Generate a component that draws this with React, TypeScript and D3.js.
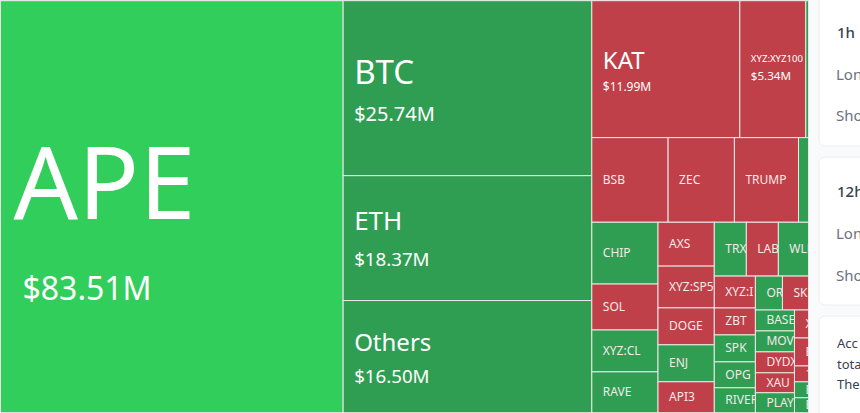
import { useEffect, useRef } from "react"
import * as d3 from "d3"

type Node = { name: string; value?: number; dir?: "h" | "v"; children?: Node[] }

const WIDTH = 860
const HEIGHT = 413
const MAP_W = 808
const MAP_H = 412

// values in $M
const mainNames = ["BTC", "ETH", "Others"]
const mainValues = [25.74, 18.37, 16.5]
const topNames = ["KAT", "XYZ:XYZ100", ""]
const topValues = [11.99, 5.34, 0.22]
const secondNames = ["BSB", "ZEC", "TRUMP", ""]
const secondValues = [3.82, 3.32, 3.21, 0.5]
const colANames = ["CHIP", "SOL", "XYZ:CL", "RAVE"]
const colAValues = [2.42, 1.8, 1.64, 1.6]
const colBNames = ["AXS", "XYZ:SP500", "DOGE", "ENJ", "API3"]
const colBValues = [1.46, 1.39, 1.23, 1.23, 1.03]
const trxNames = ["TRX", "LAB", "WLF"]
const trxValues = [1.02, 1.02, 0.96]
const lowLeftNames = ["XYZ:I", "ZBT", "SPK", "OPG", "RIVER"]
const lowLeftValues = [0.776, 0.655, 0.655, 0.63, 0.606]
const orNames = ["OR", "SK"]
const orValues = [0.543, 0.523]
const baseNames = ["BASE", "MOV", "DYDX", "XAU", "PLAY"]
const baseValues = [0.484, 0.484, 0.484, 0.461, 0.461]
const tailNames = ["X", "E", "1", "E2", "E3"]
const tailValues = [0.232, 0.232, 0.132, 0.132, 0.124]

const redNames = new Set([
  "KAT", "XYZ:XYZ100", "BSB", "ZEC", "TRUMP", "SOL", "AXS", "XYZ:SP500", "DOGE", "API3",
  "LAB", "XYZ:I", "ZBT", "SK", "DYDX", "XAU", "X", "E", "1",
])

const labelStyle: Record<string, { name: number; value: number; nameY: number; valueY: number; x: number; valueX?: number }> = {
  APE: { name: 101, value: 32, nameY: 218, valueY: 299, x: 13, valueX: 22 },
  BTC: { name: 33, value: 20, nameY: 83, valueY: 120, x: 11 },
  ETH: { name: 26, value: 18.7, nameY: 229, valueY: 265, x: 11 },
  Others: { name: 24, value: 18.7, nameY: 350, valueY: 382, x: 11 },
  KAT: { name: 24, value: 12, nameY: 68, valueY: 90, x: 11 },
  "XYZ:XYZ100": { name: 9.6, value: 11.6, nameY: 61, valueY: 79, x: 11 },
}

const leaves = (names: string[], values: number[], dir: "h" | "v", name: string): Node => ({
  name,
  dir,
  children: names.map((n, i) => ({ name: n, value: values[i] })),
})

const rightSide: Node = {
  name: "right",
  dir: "v",
  children: [
    leaves(topNames, topValues, "h", "top"),
    leaves(secondNames, secondValues, "h", "second"),
    {
      name: "rest",
      dir: "h",
      children: [
        leaves(colANames, colAValues, "v", "colA"),
        leaves(colBNames, colBValues, "v", "colB"),
        {
          name: "colC",
          dir: "v",
          children: [
            leaves(trxNames, trxValues, "h", "trx"),
            {
              name: "low",
              dir: "h",
              children: [
                leaves(lowLeftNames, lowLeftValues, "v", "lowLeft"),
                {
                  name: "lowRight",
                  dir: "v",
                  children: [
                    leaves(orNames, orValues, "h", "or"),
                    {
                      name: "tailWrap",
                      dir: "h",
                      children: [
                        leaves(baseNames, baseValues, "v", "base"),
                        leaves(tailNames, tailValues, "v", "tail"),
                      ],
                    },
                  ],
                },
              ],
            },
          ],
        },
      ],
    },
  ],
}

const treeData: Node = {
  name: "root",
  dir: "h",
  children: [
    { name: "APE", value: 83.51 },
    leaves(mainNames, mainValues, "v", "main"),
    rightSide,
  ],
}

const displayName = (n: string) => (n === "E2" || n === "E3" ? "E" : n)

export default function App() {
  const svgRef = useRef<SVGSVGElement>(null)

  useEffect(() => {
    if (!svgRef.current) return
    document.body.style.margin = "0"

    const svg = d3.select(svgRef.current)
    svg.selectAll("*").remove()
    svg.attr("width", WIDTH).attr("height", HEIGHT).style("display", "block").style("background", "#f9fafb")

    const root = d3
      .hierarchy<Node>(treeData)
      .sum((d) => d.value ?? 0)

    d3.treemap<Node>()
      .size([MAP_W, MAP_H])
      .tile((node, x0, y0, x1, y1) => {
        if (node.data.dir === "h") d3.treemapDice(node, x0, y0, x1, y1)
        else d3.treemapSlice(node, x0, y0, x1, y1)
      })(root)

    const font = "'Noto Sans', sans-serif"
    const map = svg.append("g").attr("transform", "translate(0.5,0.7)")
    const cells = map
      .selectAll("g.cell")
      .data(root.leaves() as d3.HierarchyRectangularNode<Node>[])
      .enter()
      .append("g")
      .attr("class", "cell")

    cells
      .append("clipPath")
      .attr("id", (_, i) => `clip-${i}`)
      .append("rect")
      .attr("x", (d) => d.x0)
      .attr("y", (d) => d.y0)
      .attr("width", (d) => d.x1 - d.x0)
      .attr("height", (d) => d.y1 - d.y0)

    cells
      .append("rect")
      .attr("x", (d) => d.x0)
      .attr("y", (d) => d.y0)
      .attr("width", (d) => d.x1 - d.x0)
      .attr("height", (d) => d.y1 - d.y0)
      .attr("fill", (d) => (d.data.name === "APE" ? "#32ce5c" : redNames.has(d.data.name) ? "#bf4048" : "#2f9e52"))
      .attr("stroke", "#e8e8e8")
      .attr("stroke-width", 1)

    cells.each(function (d, i) {
      if (!d.data.name) return
      const g = d3.select(this).append("g").attr("clip-path", `url(#clip-${i})`)
      const s = labelStyle[d.data.name]
      if (s) {
        g.append("text")
          .attr("x", d.x0 + s.x)
          .attr("y", s.nameY)
          .attr("fill", "#fff")
          .attr("font-family", font)
          .attr("font-size", s.name)
          .text(d.data.name)
        g.append("text")
          .attr("x", d.x0 + (s.valueX ?? s.x))
          .attr("y", s.valueY)
          .attr("fill", "#fff")
          .attr("font-family", font)
          .attr("font-size", s.value)
          .text(`$${d3.format(".2f")(d.data.value ?? 0)}M`)
      } else {
        g.append("text")
          .attr("x", d.x0 + 11)
          .attr("y", (d.y0 + d.y1) / 2 + 4)
          .attr("fill", "#f3e9e9")
          .attr("font-family", font)
          .attr("font-size", 12)
          .text(displayName(d.data.name))
      }
    })

    // stat cards cut off by the window edge
    const cardX = 819
    const cards = [
      { y: -8, h: 154, titleY: 38, rowY: [80, 121], title: "1h" },
      { y: 157, h: 148, titleY: 197, rowY: [239, 281], title: "12h" },
    ]
    cards.forEach((c) => {
      svg.append("rect").attr("x", cardX).attr("y", c.y).attr("width", 80).attr("height", c.h).attr("rx", 6)
        .attr("fill", "#fff").attr("stroke", "#eceef0")
      svg.append("text").attr("x", 837).attr("y", c.titleY).attr("font-family", font).attr("font-size", 15)
        .attr("font-weight", 500).attr("fill", "#374151").text(c.title)
      ;["Long", "Short"].forEach((r, i) => {
        svg.append("text").attr("x", 836).attr("y", c.rowY[i]).attr("font-family", font).attr("font-size", 15)
          .attr("fill", "#6b7280").text(r)
      })
    })
    svg.append("rect").attr("x", cardX).attr("y", 316).attr("width", 80).attr("height", 120).attr("rx", 6)
      .attr("fill", "#fff").attr("stroke", "#eceef0")
    ;["Acc", "tota", "The"].forEach((t, i) => {
      svg.append("text").attr("x", 837).attr("y", 348 + i * 20.5).attr("font-family", font).attr("font-size", 13)
        .attr("fill", "#374151").text(t)
    })
  }, [])

  return <svg ref={svgRef} />
}
